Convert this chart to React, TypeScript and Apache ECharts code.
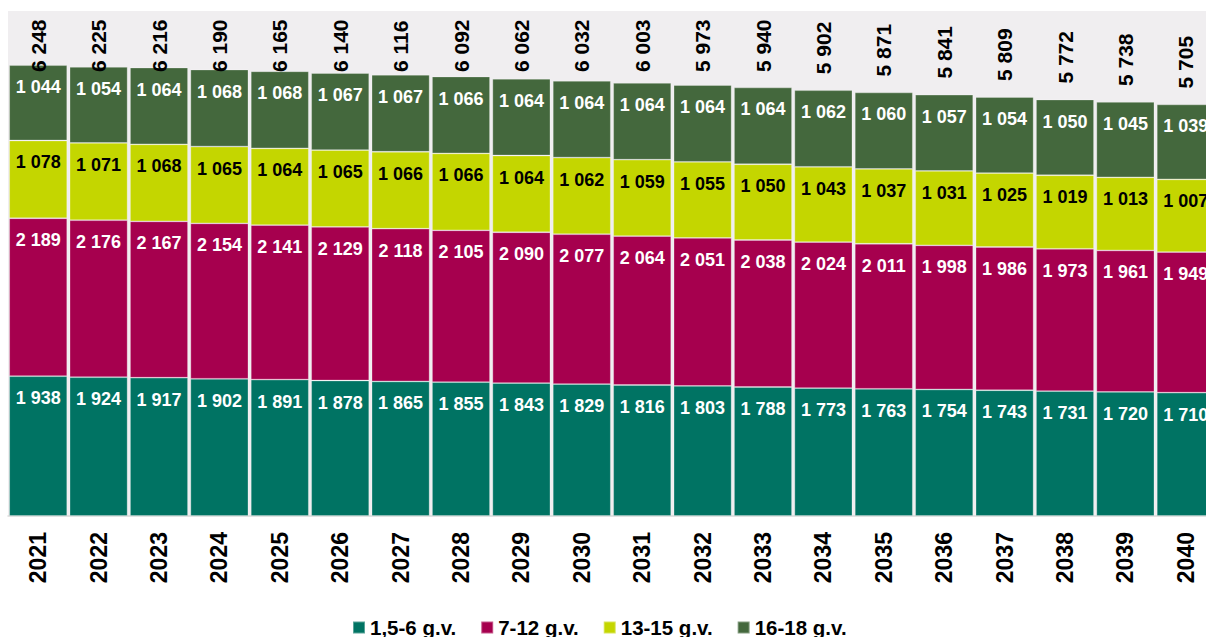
import React, { useEffect, useRef } from "react";
import * as echarts from "echarts";

const years = ["2021","2022","2023","2024","2025","2026","2027","2028","2029","2030","2031","2032","2033","2034","2035","2036","2037","2038","2039","2040"];
const age1_6 = [1938,1924,1917,1902,1891,1878,1865,1855,1843,1829,1816,1803,1788,1773,1763,1754,1743,1731,1720,1710];
const age7_12 = [2189,2176,2167,2154,2141,2129,2118,2105,2090,2077,2064,2051,2038,2024,2011,1998,1986,1973,1961,1949];
const age13_15 = [1078,1071,1068,1065,1064,1065,1066,1066,1064,1062,1059,1055,1050,1043,1037,1031,1025,1019,1013,1007];
const age16_18 = [1044,1054,1064,1068,1068,1067,1067,1066,1064,1064,1064,1064,1064,1062,1060,1057,1054,1050,1045,1039];
const totals = [6248,6225,6216,6190,6165,6140,6116,6092,6062,6032,6003,5973,5940,5902,5871,5841,5809,5772,5738,5705];
const seriesNames = ["1,5-6 g.v.", "7-12 g.v.", "13-15 g.v.", "16-18 g.v."];
const colors = ["#007363", "#A6004E", "#C4D600", "#44683D"];
const labelColors = ["#ffffff", "#ffffff", "#000000", "#ffffff"];

const FONT = "'Liberation Sans', Arial, sans-serif";
const fmt = (v: number) => String(v).replace(/\B(?=(\d{3})+(?!\d))/g, " ");

export default function App() {
  const ref = useRef<HTMLDivElement>(null);
  useEffect(() => {
    if (!ref.current) return;
    const chart = echarts.init(ref.current, null, { renderer: "svg" });
    const values = [age1_6, age7_12, age13_15, age16_18];
    const barSeries = values.map((d, i) => ({
      name: seriesNames[i],
      type: "bar",
      stack: "total",
      data: d,
      barWidth: 58,
      itemStyle: { color: colors[i], borderColor: "rgba(255,255,255,0.35)", borderWidth: 0.8 },
      label: {
        show: true,
        position: "insideTop",
        distance: 13,
        color: labelColors[i],
        fontFamily: FONT,
        fontWeight: "bold",
        fontSize: 18,
        formatter: (p: any) => fmt(p.value),
      },
    }));
    chart.setOption({
      animation: false,
      backgroundColor: "#ffffff",
      grid: {
        left: 8,
        top: 11,
        width: 1208,
        height: 505,
        outerBoundsMode: "none",
        containLabel: false,
        show: true,
        backgroundColor: "#F0EEF0",
        borderWidth: 0,
      },
      legend: {
        data: seriesNames,
        left: 352,
        top: 617,
        padding: 0,
        icon: "rect",
        itemWidth: 12,
        itemHeight: 12,
        itemGap: 24,
        textStyle: { fontFamily: FONT, fontWeight: "bold", fontSize: 20.5, color: "#000" },
      },
      xAxis: {
        type: "category",
        data: years,
        axisLine: { show: true, lineStyle: { color: "#D9D9D9", width: 1.5 } },
        axisTick: { show: false },
        axisLabel: {
          rotate: 90,
          margin: 16,
          color: "#000",
          fontFamily: FONT,
          fontWeight: "bold",
          fontSize: 23,
        },
      },
      yAxis: {
        type: "value",
        min: 0,
        max: 7000,
        show: false,
        splitLine: { show: false },
      },
      series: [
        ...barSeries,
        {
          name: "total",
          type: "custom",
          data: totals.map((t, i) => [i, t]),
          encode: { x: 0, y: 1 },
          z: 10,
          renderItem: (params: any, api: any) => {
            const idx = api.value(0);
            const total = api.value(1);
            const pt = api.coord([idx, total]);
            const y = Math.max(pt[1] - 16, 72);
            return {
              type: "text",
              x: pt[0],
              y,
              rotation: Math.PI / 2,
              style: {
                text: fmt(total),
                textAlign: "left",
                textVerticalAlign: "middle",
                font: `bold 21px ${FONT}`,
                fill: "#000",
              },
            };
          },
        },
      ],
    });
    return () => chart.dispose();
  }, []);
  return (
    <div
      ref={ref}
      style={{ position: "fixed", left: 0, top: 0, width: 1206, height: 637 }}
    />
  );
}
